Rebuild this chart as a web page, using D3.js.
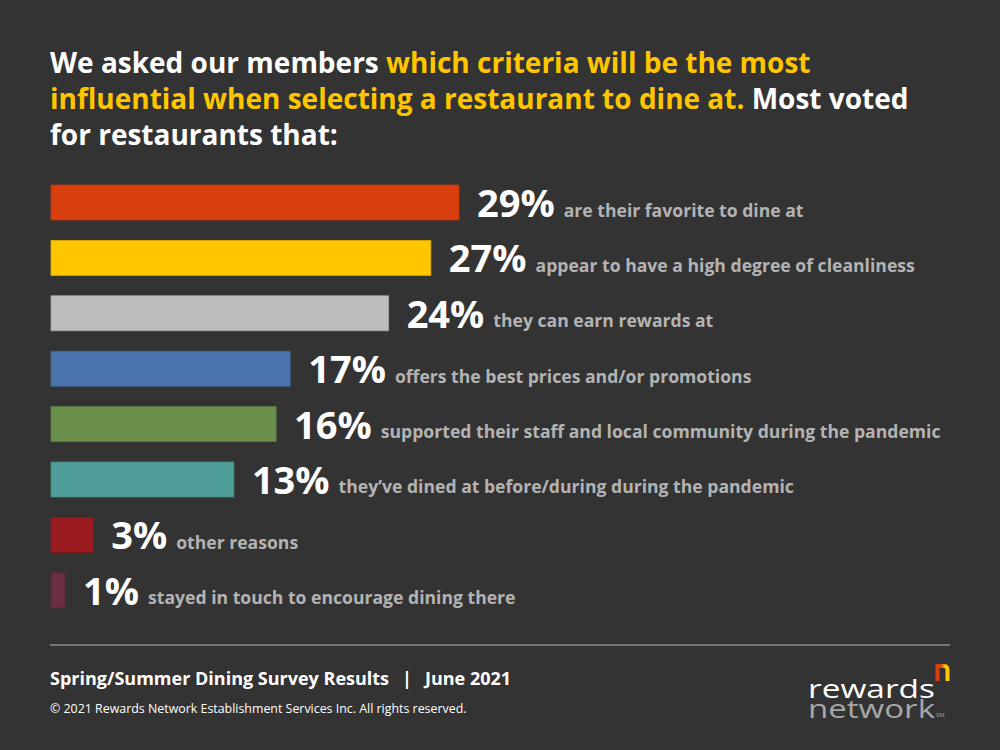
<!DOCTYPE html>
<html><head><meta charset="utf-8">
<script src="https://cdn.jsdelivr.net/npm/d3@7"></script>
<style>html,body{margin:0;padding:0;background:#333333;}svg{display:block;}</style>
</head><body>
<svg id="chart" width="1000" height="750"></svg>
<script>
const categories = [
  "are their favorite to dine at",
  "appear to have a high degree of cleanliness",
  "they can earn rewards at",
  "offers the best prices and/or promotions",
  "supported their staff and local community during the pandemic",
  "they\u2019ve dined at before/during during the pandemic",
  "other reasons",
  "stayed in touch to encourage dining there"
];
const values = [29, 27, 24, 17, 16, 13, 3, 1];
const barColors = ["#d93e0e", "#ffc600", "#bdbdbd", "#4a73ad", "#6a8f4b", "#4f9d99", "#9a1c20", "#6b2f45"];
const titleParts = [
  [["We asked our members ", "#ffffff"], ["which criteria will be the most", "#ffc600"]],
  [["influential when selecting a restaurant to dine at.", "#ffc600"], [" Most voted", "#ffffff"]],
  [["for restaurants that:", "#ffffff"]]
];
const footerParts = ["Spring/Summer Dining Survey Results", "|", "June 2021"];
const copyright = "\u00a9 2021 Rewards Network Establishment Services Inc. All rights reserved.";

const svg = d3.select("#chart");
const FONT = "'Open Sans', 'Noto Sans', sans-serif";
svg.append("rect").attr("width", 1000).attr("height", 750).attr("fill", "#333333");

// title
titleParts.forEach((parts, i) => {
  const t = svg.append("text")
    .attr("x", 50).attr("y", 73 + i * 36)
    .attr("font-family", FONT).attr("font-weight", 700).attr("font-size", 28);
  parts.forEach(p => t.append("tspan").attr("fill", p[1]).text(p[0]));
});

const x = d3.scaleLinear().domain([0, d3.max(values)]).range([51, 459]);
const y = d3.scaleBand().domain(d3.range(values.length)).range([185, 607.8]).paddingInner(0.368).paddingOuter(0);

const rows = svg.append("g").selectAll("g").data(values).join("g");
rows.append("rect")
  .attr("x", x(0)).attr("y", (d, i) => y(i))
  .attr("width", d => x(d) - x(0)).attr("height", y.bandwidth())
  .attr("fill", (d, i) => barColors[i])
  .attr("stroke", (d, i) => d3.color(barColors[i]).darker(0.4)).attr("stroke-width", 0.8);

rows.each(function (d, i) {
  const g = d3.select(this);
  const base = y(i) + 32;
  const pct = g.append("text")
    .attr("x", x(d) + 18).attr("y", base)
    .attr("font-family", FONT).attr("font-weight", 700).attr("font-size", 38)
    .attr("fill", "#ffffff").text(d + "%");
  const w = pct.node().getComputedTextLength();
  g.append("text")
    .attr("x", x(d) + 18 + w + 9).attr("y", base - 0.5)
    .attr("font-family", FONT).attr("font-weight", 700).attr("font-size", 17.6)
    .attr("fill", "#b3b3b3").text(categories[i]);
});

// footer
svg.append("line").attr("x1", 50).attr("x2", 950).attr("y1", 645).attr("y2", 645)
  .attr("stroke", "#8a8a8a").attr("stroke-width", 1.6);
let fx = 50;
footerParts.forEach((p, i) => {
  const t = svg.append("text").attr("x", fx).attr("y", 685)
    .attr("font-family", FONT).attr("font-weight", 700).attr("font-size", 18)
    .attr("fill", "#ffffff").text(p);
  fx += t.node().getComputedTextLength() + 13;
});
svg.append("text").attr("x", 50).attr("y", 713)
  .attr("font-family", FONT).attr("font-weight", 400).attr("font-size", 12.4)
  .attr("fill", "#ffffff").text(copyright);

// logo
const logo = svg.append("g");
logo.append("text").attr("x", 808).attr("y", 698)
  .attr("font-family", FONT).attr("font-weight", 400).attr("font-size", 26)
  .attr("textLength", 127).attr("lengthAdjust", "spacingAndGlyphs")
  .attr("fill", "#ffffff").text("rewards");
logo.append("text").attr("x", 808).attr("y", 718)
  .attr("font-family", FONT).attr("font-weight", 400).attr("font-size", 26)
  .attr("textLength", 127).attr("lengthAdjust", "spacingAndGlyphs")
  .attr("fill", "#a6a6a6").text("network");
logo.append("text").attr("x", 936).attr("y", 717)
  .attr("font-family", FONT).attr("font-weight", 400).attr("font-size", 6)
  .attr("fill", "#a6a6a6").text("SM");
const grad = svg.append("defs").append("linearGradient").attr("id", "ng").attr("x1", 0).attr("x2", 1);
grad.append("stop").attr("offset", "0.35").attr("stop-color", "#d93e0e");
grad.append("stop").attr("offset", "0.75").attr("stop-color", "#ffc600");
logo.append("path")
  .attr("d", "M937.5,681 L937.5,666 L944,666 Q947.5,666 947.5,670 L947.5,681")
  .attr("fill", "none").attr("stroke", "url(#ng)").attr("stroke-width", 4);
</script>
</body></html>
